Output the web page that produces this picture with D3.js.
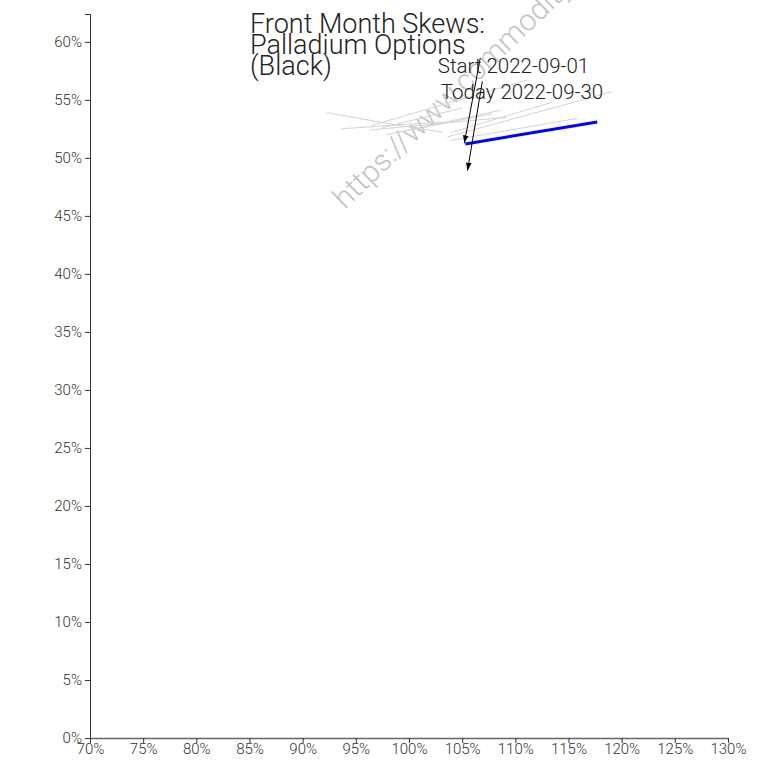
<!DOCTYPE html>
<html>
<head>
<meta charset="utf-8">
<script src="https://cdn.jsdelivr.net/npm/d3@7"></script>
<style>
  body { margin: 0; background: #fff; }
  svg { display: block; font-family: Roboto, sans-serif; }
</style>
</head>
<body>
<svg id="chart" width="768" height="762"></svg>
<script>
// ---- data ----
const xTicks = [0.70, 0.75, 0.80, 0.85, 0.90, 0.95, 1.00, 1.05, 1.10, 1.15, 1.20, 1.25, 1.30];
const yTicks = [0, 0.05, 0.10, 0.15, 0.20, 0.25, 0.30, 0.35, 0.40, 0.45, 0.50, 0.55, 0.60];
const titleLines = ["Front Month Skews:", "Palladium Options", "(Black)"];
// historical daily skews (moneyness, implied vol)
const histMoneyness = [
  [0.923, 0.99, 1.032],
  [0.965, 1.111],
  [0.963, 1.092],
  [0.979, 1.086],
  [0.936, 1.03],
  [1.036, 1.191],
  [1.039, 1.158],
  [0.996, 1.078],
  [1.04, 1.135],
  [0.975, 1.05]
];
const histVol = [
  [0.539, 0.528, 0.522],
  [0.528, 0.567],
  [0.524, 0.535],
  [0.520, 0.541],
  [0.525, 0.531],
  [0.518, 0.557],
  [0.515, 0.534],
  [0.523, 0.538],
  [0.522, 0.548],
  [0.526, 0.543]
];
// today's skew
const todayMoneyness = [1.053, 1.177];
const todayVol = [0.512, 0.531];
// annotations
const startLabel = "Start 2022-09-01";
const todayLabel = "Today 2022-09-30";
const startArrow = { from: [1.067, 0.586], to: [1.052, 0.5125] };
const todayArrow = { from: [1.069, 0.566], to: [1.055, 0.489] };

// ---- layout ----
const W = 768, H = 762;
const m = { left: 90, right: 40, top: 14, bottom: 24 };
const svg = d3.select("#chart");

const x = d3.scaleLinear().domain([0.70, 1.30]).range([m.left, W - m.right]);
const y = d3.scaleLinear().domain([0, 0.624]).range([H - m.bottom, m.top]);

const defs = svg.append("defs");
defs.append("marker").attr("id", "arr")
  .attr("viewBox", "0 0 10 10").attr("refX", 10).attr("refY", 5)
  .attr("markerWidth", 8).attr("markerHeight", 8).attr("orient", "auto")
  .append("path").attr("d", "M0,1.5 L10,5 L0,8.5 Z").attr("fill", "#000");

// watermark
svg.append("text")
  .attr("transform", `translate(345,210) rotate(-44)`)
  .attr("font-size", 30).attr("font-weight", 300)
  .attr("fill", "#c4c4c4")
  .text("https://www.commodityresearchgroup.com");

// axes
const fmt = d3.format(".0%");
const xAxis = svg.append("g").attr("transform", `translate(0,${H - m.bottom})`)
  .call(d3.axisBottom(x).tickValues(xTicks).tickFormat(fmt).tickSize(5).tickSizeOuter(0));
const yAxis = svg.append("g").attr("transform", `translate(${m.left},0)`)
  .call(d3.axisLeft(y).tickValues(yTicks).tickFormat(fmt).tickSize(5).tickSizeOuter(5));
[xAxis, yAxis].forEach(a => {
  a.selectAll("text").attr("font-family", "Roboto, sans-serif").attr("font-weight", 300)
    .attr("font-size", 15).attr("fill", "#333");
  a.selectAll("line").attr("stroke", "#333");
  a.select(".domain").attr("stroke", "#333");
});
xAxis.selectAll("text").attr("dy", "0.55em");
xAxis.select(".domain").attr("stroke", "#666").attr("stroke-width", 1.6);

// lines
const line = d3.line().x(d => x(d[0])).y(d => y(d[1]));
histMoneyness.forEach((ms, i) => {
  svg.append("path")
    .attr("d", line(ms.map((mv, j) => [mv, histVol[i][j]])))
    .attr("fill", "none").attr("stroke", "#d3d3d3").attr("stroke-width", 1);
});
svg.append("path")
  .attr("d", line(todayMoneyness.map((mv, j) => [mv, todayVol[j]])))
  .attr("fill", "none").attr("stroke", "#0000ff").attr("stroke-width", 3);

// title
const t = svg.append("text").attr("x", 250).attr("y", 33)
  .attr("font-size", 27).attr("font-weight", 300).attr("fill", "#222");
titleLines.forEach((s, i) => t.append("tspan").attr("x", 250).attr("dy", i === 0 ? 0 : 21).text(s));

// annotations
[startArrow, todayArrow].forEach(a => {
  svg.append("line")
    .attr("x1", x(a.from[0])).attr("y1", y(a.from[1]))
    .attr("x2", x(a.to[0])).attr("y2", y(a.to[1]))
    .attr("stroke", "#000").attr("stroke-width", 1).attr("marker-end", "url(#arr)");
});
svg.append("text").attr("x", 513.5).attr("y", 73).attr("text-anchor", "middle")
  .attr("font-size", 20.5).attr("font-weight", 300).attr("fill", "#222").text(startLabel);
svg.append("text").attr("x", 522).attr("y", 99).attr("text-anchor", "middle")
  .attr("font-size", 20.5).attr("font-weight", 300).attr("fill", "#222").text(todayLabel);
</script>
</body>
</html>
